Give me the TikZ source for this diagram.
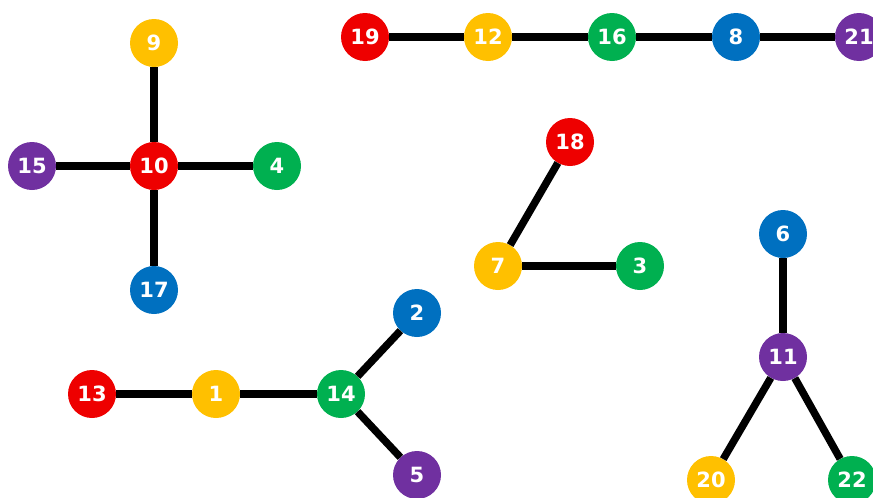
\documentclass[tikz,border=0pt]{standalone}
\usepackage{fontspec}
\setmainfont{DejaVu Sans}
\definecolor{cred}{HTML}{EE0000}
\definecolor{cyel}{HTML}{FFC000}
\definecolor{cgrn}{HTML}{00B050}
\definecolor{cblu}{HTML}{0070C0}
\definecolor{cpur}{HTML}{7030A0}
\begin{document}
\begin{tikzpicture}[x=1pt,y=-1pt,
  vtx/.style={circle,minimum size=48pt,inner sep=0pt,text=white,
    font=\fontsize{21}{21}\selectfont\bfseries},
  vr/.style={vtx,fill=cred}, vy/.style={vtx,fill=cyel}, vg/.style={vtx,fill=cgrn},
  vb/.style={vtx,fill=cblu}, vp/.style={vtx,fill=cpur},
  edge/.style={line width=7.5pt,black}]
\useasboundingbox (0,0) rectangle (873,498);
\clip (0,0) rectangle (873,498);
% group 1
\node[vy] (n9) at (154,43) {9};
\node[vr] (n10) at (154,166) {10};
\node[vp] (n15) at (32,166) {15};
\node[vg] (n4) at (277,166) {4};
\node[vb] (n17) at (154,290) {17};
% group 2
\node[vr] (n19) at (365,37) {19};
\node[vy] (n12) at (488,37) {12};
\node[vg] (n16) at (612,37) {16};
\node[vb] (n8) at (736,37) {8};
\node[vp] (n21) at (859,37) {21};
% group 3
\node[vr] (n18) at (570,142) {18};
\node[vy] (n7) at (498,266) {7};
\node[vg] (n3) at (640,266) {3};
% group 4
\node[vb] (n6) at (783,234) {6};
\node[vp] (n11) at (783,357) {11};
\node[vy] (n20) at (711,480) {20};
\node[vg] (n22) at (852,480) {22};
% group 5
\node[vr] (n13) at (92,394) {13};
\node[vy] (n1) at (216,394) {1};
\node[vg] (n14) at (341,394) {14};
\node[vb] (n2) at (417,313) {2};
\node[vp] (n5) at (417,475) {5};
% edges
\draw[edge] (n9) -- (n10);
\draw[edge] (n15) -- (n10);
\draw[edge] (n10) -- (n4);
\draw[edge] (n10) -- (n17);
\draw[edge] (n19) -- (n12);
\draw[edge] (n12) -- (n16);
\draw[edge] (n16) -- (n8);
\draw[edge] (n8) -- (n21);
\draw[edge] (n18) -- (n7);
\draw[edge] (n7) -- (n3);
\draw[edge] (n6) -- (n11);
\draw[edge] (n11) -- (n20);
\draw[edge] (n11) -- (n22);
\draw[edge] (n13) -- (n1);
\draw[edge] (n1) -- (n14);
\draw[edge] (n14) -- (n2);
\draw[edge] (n14) -- (n5);
\end{tikzpicture}
\end{document}
